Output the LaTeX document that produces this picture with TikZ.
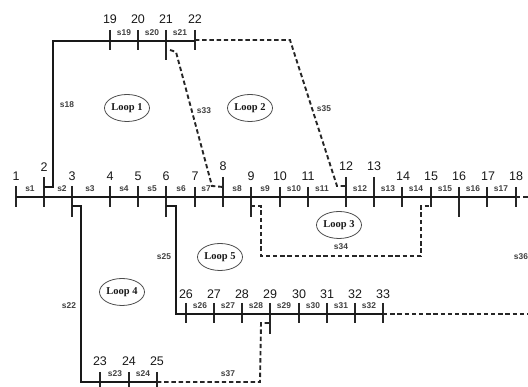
\documentclass[tikz,border=0pt]{standalone}
\usepackage{fontspec}
\setmainfont{Liberation Sans}
\newfontfamily\loopfont{Liberation Serif}
\usetikzlibrary{shapes.geometric}
\tikzset{
  bus/.style={line width=2.3pt,black!90},
  feeder/.style={line width=2.8pt,black!90},
  tie/.style={line width=1.9pt,black!85,dash pattern=on 4.4pt off 2.8pt},
  tick/.style={line width=1.2pt,black!85},
  num/.style={inner sep=0pt,font=\fontsize{12.5}{13}\selectfont,text=black!90},
  sec/.style={inner sep=0pt,font=\bfseries\fontsize{8.4}{9}\selectfont,text=black!75},
  loopnode/.style={draw=black!70,line width=0.8pt,ellipse,minimum width=45pt,minimum height=27pt,inner sep=0pt,font=\loopfont\bfseries\fontsize{10.5}{10.5}\selectfont,text=black!90}
}
\begin{document}
\begin{tikzpicture}[x=1pt,y=-1pt]
\useasboundingbox (0,0) rectangle (528,387);
% bus coordinates: name / x / y
\foreach \n/\x/\y in {1/16/197,2/44/197,3/72/197,4/110/197,5/138/197,6/166/197,7/195/197,8/223/197,9/251/197,10/280/197,11/308/197,12/346/197,13/374/197,14/402/197,15/431/197,16/459/197,17/487/197,18/516/197,
19/110/41,20/138/41,21/166/41,22/195/41,
23/100/382,24/129/382,25/157/382,
26/186/314,27/214/314,28/242/314,29/270/314,30/299/314,31/327/314,32/355/314,33/383/314}
  \coordinate (b\n) at (\x,\y);
% named free ends and bends
\foreach \n/\x/\y in {c2/44/187,c2a/53/187,c2b/53/41,
c3/72/206,c3a/81/206,c3b/81/382,
c6/166/206,c6a/176/206,c6b/176/314,
c9/251/206,c9a/261/206,c9b/261/256,c9c/421/256,c9d/421/206,c15/431/206,
c21/170/50,c21a/176/52,c21b/212/186,c8/223/187,
c22a/290/40,c22b/337/186,c12/346/186,
c25a/260/382,c25b/261/323,c29/270/323,
e33/528/314,e18/528/197}
  \coordinate (\n) at (\x,\y);
% ticks: bus / top / bottom
\foreach \n/\t/\b in {1/186/207,2/177/207,3/186/217,4/186/207,5/186/207,6/186/217,7/187/207,8/177/207,9/187/217,10/187/207,11/187/207,12/177/207,13/177/207,14/187/207,15/187/207,16/187/217,17/187/207,18/187/207,
19/30/50,20/30/50,21/30/60,22/30/50,
23/372/392,24/372/392,25/372/392,
26/303/323,27/303/323,28/303/323,29/303/334,30/303/323,31/303/323,32/303/323,33/303/323}
  \draw[tick] (b\n |- 0,\t) -- (b\n |- 0,\b);
% buses
\draw[bus] (b1) -- (b18);
\draw[feeder] (c2) -- (c2a) -- (c2b) -- (b22);
\draw[feeder] (c3) -- (c3a) -- (c3b) -- (b25);
\draw[feeder] (c6) -- (c6a) -- (c6b) -- (b33);
% tie lines
\draw[tie] (b22 |- c22a) -- (c22a) -- (c22b) -- (c12);
\draw[tie] (c21) -- (c21a) -- (c21b) -- (c8);
\draw[tie] (c9) -- (c9a) -- (c9b) -- (c9c) -- (c9d) -- (c15);
\draw[tie] (b25) -- (c25a) -- (c25b) -- (c29);
\draw[tie] (b33) -- (e33);
\draw[tie] (b18) -- (e18);
% bus numbers
\foreach \n/\x/\y in {1/16/176,2/44/167,3/72/176,4/110/176,5/138/176,6/166/176,7/195/176,8/223/166,9/251/176,10/280/176,11/308/176,12/346/166,13/374/166,14/403/176,15/431/176,16/459/176,17/488/176,18/516/176,
19/110/19,20/138/19,21/166/19,22/195/19,
23/100/361,24/129/361,25/157/361,
26/186/294,27/214/294,28/242/294,29/270/294,30/299/294,31/327/294,32/355/294,33/383/294}
  \node[num] (n\n) at (\x,\y) {\n};
% section labels
\foreach \n/\x/\y in {1/30/189,2/62/189,3/90/189,4/124/189,5/152/189,6/181/189,7/206/189,8/237/189,9/265/189,10/294/189,11/322/189,12/360/189,13/388/189,14/416/189,15/445/189,16/473/189,17/501/189,
18/67/105,19/124/33,20/152/33,21/180/33,22/69/306,23/115/374,24/143/374,25/164/257,
26/200/306,27/228/306,28/256/306,29/284/306,30/313/306,31/341/306,32/369/306,
33/204/111,34/341/247,35/324/109,36/521/257,37/228/374}
  \node[sec] (s\n) at (\x,\y) {s\n};
% loops
\node[loopnode] (loop1) at (127,108) {Loop 1};
\node[loopnode] (loop2) at (250,108) {Loop 2};
\node[loopnode] (loop3) at (339,225) {Loop 3};
\node[loopnode] (loop4) at (122,292) {Loop 4};
\node[loopnode] (loop5) at (220,257) {Loop 5};
\end{tikzpicture}
\end{document}
